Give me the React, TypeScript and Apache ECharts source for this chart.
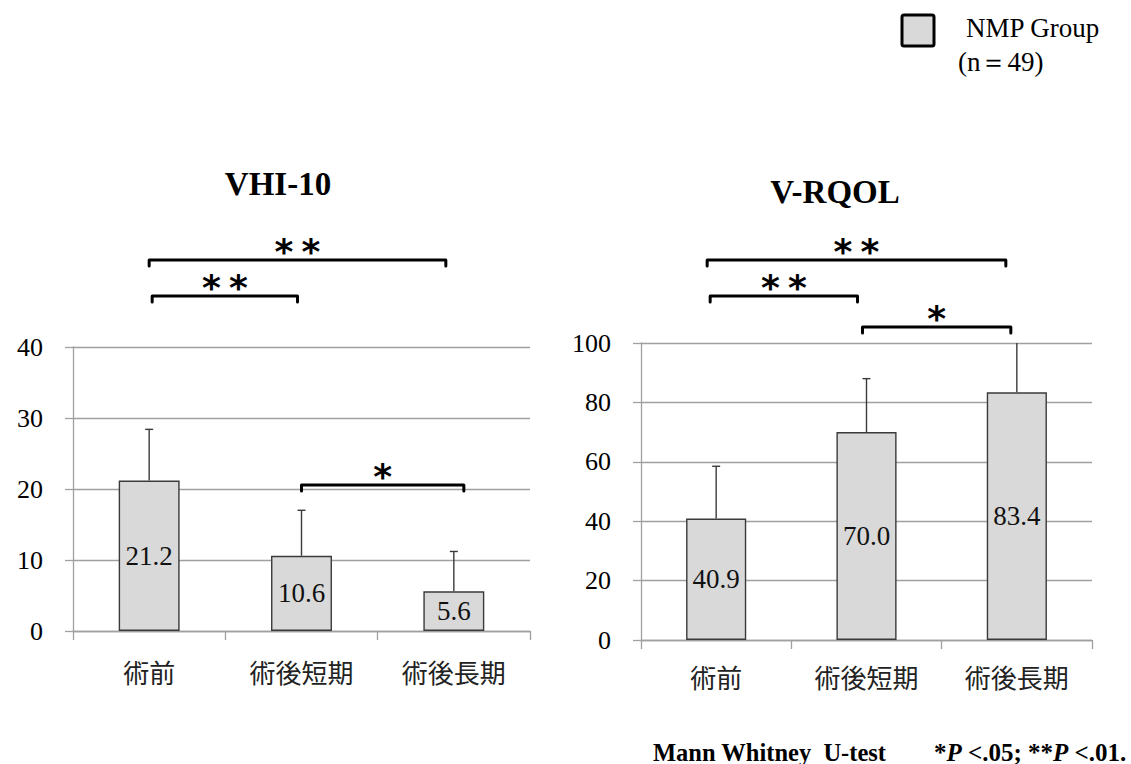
import React, { useEffect, useRef } from 'react';
import * as echarts from 'echarts';

// ---------- data ----------
const categories = ['術前', '術後短期', '術後長期'];
const vhiMean = [21.2, 10.6, 5.6];
const vhiUpper = [28.4, 17.0, 11.2];
const vrqolMean = [40.9, 70.0, 83.4];
const vrqolUpper = [58.5, 88.0, 100];
const vhiTicks = { min: 0, max: 40, interval: 10 };
const vrqolTicks = { min: 0, max: 100, interval: 20 };
// significance comparisons: [fromIndex, toIndex, mark]
const vhiComparisons: [number, number, string][] = [[0, 2, '**'], [0, 1, '**'], [1, 2, '*']];
const vrqolComparisons: [number, number, string][] = [[0, 2, '**'], [0, 1, '**'], [1, 2, '*']];
const chartTitles = ['VHI-10', 'V-RQOL'];
const legendName = 'NMP Group';
const legendN = '(n＝49)';
const footnoteTest = 'Mann Whitney\u00a0 U-test';

// ---------- layout (pixels) ----------
const bracketLayout = [
  [ { y: 260, dx1: 0, dx2: -8 }, { y: 296, dx1: 3, dx2: -4 }, { y: 485, dx1: 0, dx2: 10 } ],
  [ { y: 260, dx1: -9, dx2: -11 }, { y: 296, dx1: -6, dx2: -9 }, { y: 327, dx1: -4, dx2: -6 } ],
];
const xLabelMargins = [27, 23];

const SERIF = 'Liberation Serif';
const CJK = 'Noto Sans CJK JP';

function errorRender(params: any, api: any) {
  const i = api.value(0);
  const base = api.coord([i, api.value(1)]);
  const top = api.coord([i, api.value(2)]);
  const gridTop = params.coordSys.y;
  const style = { stroke: '#3a3a3a', lineWidth: 1.4 };
  const children: any[] = [
    { type: 'line', shape: { x1: base[0], y1: base[1], x2: top[0], y2: top[1] }, style },
  ];
  if (top[1] > gridTop + 1) {
    children.push({ type: 'line', shape: { x1: top[0] - 4, y1: top[1], x2: top[0] + 4, y2: top[1] }, style });
  }
  return { type: 'group', children };
}

export default function App() {
  const ref = useRef<HTMLDivElement>(null);
  useEffect(() => {
    if (!ref.current) return;
    const chart = echarts.init(ref.current, undefined, { renderer: 'svg' });
    const grids = [
      { left: 73, top: 347, width: 457, height: 284 },
      { left: 641, top: 343, width: 451, height: 297 },
    ];
    const ticks = [vhiTicks, vrqolTicks];
    const means = [vhiMean, vrqolMean];
    const uppers = [vhiUpper, vrqolUpper];
    const gray = '#a0a0a0';
    const option: any = {
      animation: false,
      textStyle: { fontFamily: SERIF },
      grid: grids,
      xAxis: grids.map((_, g) => ({
        type: 'category',
        gridIndex: g,
        data: categories,
        boundaryGap: true,
        axisLine: { show: true, lineStyle: { color: gray, width: 1.3 } },
        axisTick: { show: true, length: 9, lineStyle: { color: gray, width: 1.3 } },
        axisLabel: { margin: xLabelMargins[g], fontSize: 26, fontFamily: CJK, color: '#222' },
        splitLine: { show: false },
      })),
      yAxis: grids.map((_, g) => ({
        type: 'value',
        gridIndex: g,
        min: ticks[g].min,
        max: ticks[g].max,
        interval: ticks[g].interval,
        axisLine: { show: true, lineStyle: { color: gray, width: 1.3 } },
        axisTick: { show: true, length: 8, lineStyle: { color: gray, width: 1.3 } },
        axisLabel: { margin: 30, fontSize: 26, fontFamily: SERIF, color: '#000' },
        splitLine: { show: true, lineStyle: { color: gray, width: 1.3 } },
      })),
      series: [
        ...grids.map((_, g) => ({
          type: 'bar',
          xAxisIndex: g,
          yAxisIndex: g,
          data: means[g],
          barWidth: '40%',
          itemStyle: { color: '#d9d9d9', borderColor: '#3a3a3a', borderWidth: 1.4 },
          label: {
            show: true,
            position: 'inside',
            fontSize: 27, fontFamily: SERIF, color: '#111',
            formatter: (p: any) => Number(p.value).toFixed(1),
          },
          z: 2,
        })),
        ...grids.map((_, g) => ({
          type: 'custom',
          xAxisIndex: g,
          yAxisIndex: g,
          renderItem: errorRender,
          data: means[g].map((m, i) => [i, m, uppers[g][i]]),
          encode: { x: 0, y: 2 },
          z: 3,
          silent: true,
        })),
      ],
    };
    chart.setOption(option);

    const elements: any[] = [];
    const comps = [vhiComparisons, vrqolComparisons];
    comps.forEach((list, g) => {
      list.forEach(([a, b, mark], k) => {
        const L = bracketLayout[g][k];
        const xa = (chart.convertToPixel({ gridIndex: g } as any, [a, 0]) as number[])[0] + L.dx1;
        const xb = (chart.convertToPixel({ gridIndex: g } as any, [b, 0]) as number[])[0] + L.dx2;
        elements.push({
          type: 'polyline',
          shape: { points: [[xa, L.y + 6], [xa, L.y], [xb, L.y], [xb, L.y + 6]] },
          style: { stroke: '#000', lineWidth: 3, fill: null, lineJoin: 'round', lineCap: 'round' },
        });
        const mid = (xa + xb) / 2;
        const n = mark.length;
        for (let s = 0; s < n; s++) {
          const sx = mid + (s - (n - 1) / 2) * 27;
          elements.push({
            type: 'text',
            x: sx,
            y: L.y - 9,
            style: {
              text: '*',
              fontSize: 36,
              fontWeight: 'bold',
              fontFamily: 'DejaVu Sans',
              fill: '#000',
              textAlign: 'center', textVerticalAlign: 'middle', align: 'center', verticalAlign: 'middle',
            },
          });
        }
      });
    });
    const titlePos = [[278, 184], [835, 192]];
    chartTitles.forEach((t, g) => {
      elements.push({
        type: 'text',
        x: titlePos[g][0],
        y: titlePos[g][1],
        style: {
          text: t, fontSize: 33, fontWeight: 'bold', fontFamily: SERIF, fill: '#000',
          textAlign: 'center', textVerticalAlign: 'middle', align: 'center', verticalAlign: 'middle',
        },
      });
    });
    elements.push({
      type: 'rect',
      shape: { x: 902, y: 15, width: 32, height: 31, r: 2 },
      style: { fill: '#d9d9d9', stroke: '#000', lineWidth: 3 },
    });
    elements.push({
      type: 'text', x: 966, y: 28,
      style: { text: legendName, fontSize: 27, fontFamily: SERIF, fill: '#000', textVerticalAlign: 'middle', verticalAlign: 'middle' },
    });
    elements.push({
      type: 'text', x: 958, y: 62,
      style: { text: legendN, fontSize: 27, fontFamily: SERIF, fill: '#000', textVerticalAlign: 'middle', verticalAlign: 'middle' },
    });
    elements.push({
      type: 'text', x: 653, y: 752,
      style: { text: footnoteTest, fontSize: 24.5, fontWeight: 'bold', fontFamily: SERIF, fill: '#000', textVerticalAlign: 'middle', verticalAlign: 'middle' },
    });
    elements.push({
      type: 'text', x: 934, y: 752,
      style: {
        text: '{a|*}{b|P}{a| <.05; **}{b|P}{a| <.01.}',
        fill: '#000',
        textVerticalAlign: 'middle', verticalAlign: 'middle',
        rich: {
          a: { fontSize: 25, fontWeight: 'bold', fontFamily: SERIF, fill: '#000' },
          b: { fontSize: 25, fontWeight: 'bold', fontStyle: 'italic', fontFamily: SERIF, fill: '#000' },
        },
      },
    });
    chart.setOption({ graphic: { elements } });
    return () => chart.dispose();
  }, []);
  return <div ref={ref} style={{ position: 'absolute', left: 0, top: 0, width: 1131, height: 764 }} />;
}
